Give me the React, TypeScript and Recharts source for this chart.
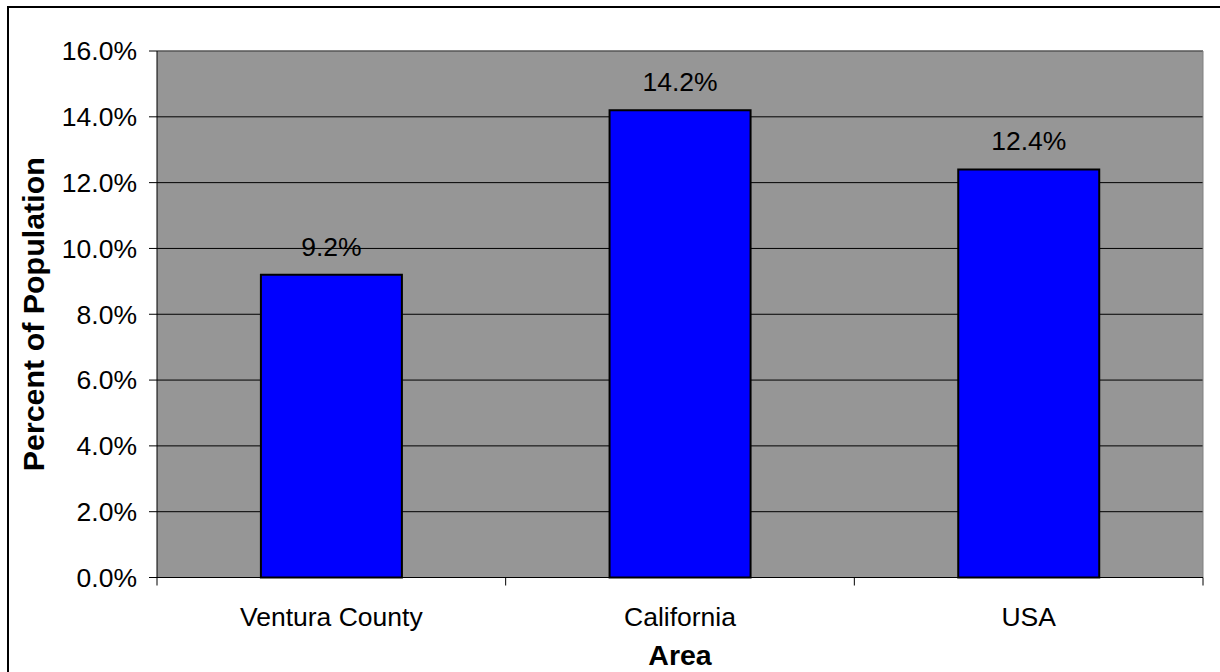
import React from "react";
import {
  Bar,
  BarChart,
  CartesianGrid,
  LabelList,
  ReferenceLine,
  XAxis,
  YAxis,
} from "recharts";

const categories = ["Ventura County", "California", "USA"];
const percentValues = [9.2, 14.2, 12.4];
const yTicks = [0, 2, 4, 6, 8, 10, 12, 14, 16];

const data = categories.map((area, i) => ({ area, pct: percentValues[i] }));

const FONT = '"Liberation Sans", Arial, Helvetica, sans-serif';
const TICK_FONT = 26.5;
const TITLE_FONT = 28.5;
const Y_TITLE_FONT = 30.4;
const X_TICK = 8;

const pctLabel = (v: number) => `${Number(v).toFixed(1)}%`;

// category label plus Excel-style tick marks on the band boundaries
function AreaTick(props: any) {
  const { x, y, payload, index, visibleTicksCount } = props;
  const half = payload?.offset ?? 0;
  const axisY = y - X_TICK;
  const last = index === visibleTicksCount - 1;
  return (
    <g>
      <line x1={x - half} x2={x - half} y1={axisY} y2={axisY + X_TICK} stroke="#000" />
      {last && (
        <line x1={x + half} x2={x + half} y1={axisY} y2={axisY + X_TICK} stroke="#000" />
      )}
      <text
        x={x}
        y={y + 40.5}
        textAnchor="middle"
        fontSize={TICK_FONT}
        fontFamily={FONT}
        fill="#000"
      >
        {payload.value}
      </text>
    </g>
  );
}

function YTitle({ viewBox }: any) {
  const cx = 33;
  const cy = viewBox.y + viewBox.height / 2;
  return (
    <text
      x={cx}
      y={cy}
      transform={`rotate(-90, ${cx}, ${cy})`}
      textAnchor="middle"
      dominantBaseline="central"
      fontSize={Y_TITLE_FONT}
      fontWeight="bold"
      fontFamily={FONT}
      fill="#000"
    >
      Percent of Population
    </text>
  );
}

function XTitle({ viewBox }: any) {
  return (
    <text
      x={viewBox.x + viewBox.width / 2}
      y={665}
      textAnchor="middle"
      fontSize={TITLE_FONT}
      fontWeight="bold"
      fontFamily={FONT}
      fill="#000"
    >
      Area
    </text>
  );
}

export default function App() {
  return (
    <div
      style={{
        position: "fixed",
        left: 0,
        top: 0,
        width: 1220,
        height: 672,
        overflow: "hidden",
        background: "#fff",
        fontFamily: FONT,
      }}
    >
      <div
        style={{
          position: "absolute",
          left: 7,
          top: 6,
          width: 1240,
          height: 700,
          border: "2px solid #000",
        }}
      />
      <div style={{ position: "absolute", left: 0, top: 0 }}>
        <BarChart
          width={1220}
          height={672}
          data={data}
          margin={{ top: 51, right: 17, bottom: 6, left: 10 }}
          barCategoryGap="29.8%"
        >
          <CartesianGrid
            fill="#969696"
            fillOpacity={1}
            stroke="#000"
            horizontal={(p: any) => (
              <line key={p.key} x1={p.x1} x2={p.x2} y1={p.y1} y2={p.y2} stroke="#000" />
            )}
            vertical={(p: any) => (
              <line key={p.key} x1={p.x1} x2={p.x2} y1={p.y1} y2={p.y2} stroke="#808080" />
            )}
            verticalCoordinatesGenerator={({ offset }: any) => [offset.left + offset.width]}
          />
          <ReferenceLine y={16} stroke="#808080" />
          <XAxis
            dataKey="area"
            height={88.5}
            axisLine={{ stroke: "#000" }}
            tickLine={false}
            tickSize={X_TICK}
            tickMargin={0}
            tick={<AreaTick />}
            interval={0}
            label={{ content: <XTitle /> }}
          />
          <YAxis
            width={147}
            domain={[0, 16]}
            ticks={yTicks}
            interval={0}
            tickFormatter={pctLabel}
            axisLine={{ stroke: "#000" }}
            tickLine={{ stroke: "#000" }}
            tickSize={8}
            tickMargin={12}
            tick={{ fontSize: TICK_FONT, fill: "#000", fontFamily: FONT }}
            label={{ content: <YTitle /> }}
          />
          <Bar
            dataKey="pct"
            fill="#0000FF"
            stroke="#000"
            strokeWidth={2}
            isAnimationActive={false}
          >
            <LabelList
              dataKey="pct"
              position="top"
              offset={19}
              formatter={(v: any) => pctLabel(v)}
              style={{ fontSize: TICK_FONT, fill: "#000", fontFamily: FONT }}
            />
          </Bar>
        </BarChart>
      </div>
    </div>
  );
}
